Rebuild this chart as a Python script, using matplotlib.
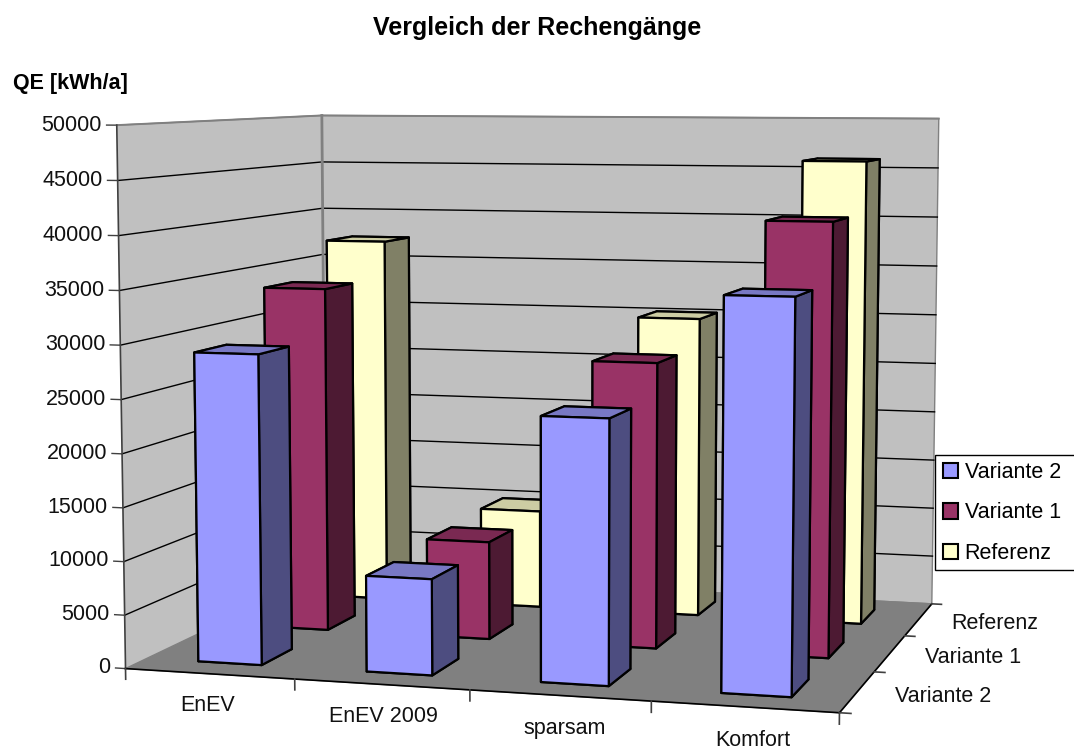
import matplotlib
matplotlib.use("Agg")
import numpy as np
import matplotlib.pyplot as plt
from matplotlib.patches import Patch, Rectangle

plt.rcParams['font.family'] = ['Liberation Sans', 'DejaVu Sans']

categories = ["EnEV", "EnEV 2009", "sparsam", "Komfort"]
series_names = ["Variante 2", "Variante 1", "Referenz"]
variante2 = [29000, 8900, 24200, 35400]
variante1 = [33700, 9500, 27400, 41000]
referenz = [37300, 9900, 30100, 46000]
z_ticks = [0, 5000, 10000, 15000, 20000, 25000, 30000, 35000, 40000, 45000, 50000]

# front, top, side colours per series
face_colors = ["#9999FF", "#993366", "#FFFFCC"]
top_colors = ["#7878C4", "#7A2952", "#CCCCA3"]
side_colors = ["#4D4D80", "#4D1A33", "#808066"]

W, H = 1074, 750
fig = plt.figure(figsize=(W / 100, H / 100), dpi=100, facecolor="white")
# 3d axes are always square, so let it overflow the figure vertically
ax = fig.add_axes([0 / W, (1 - W / H) / 2 - 20 / H, 1, W / H], projection="3d", computed_zorder=False)
ax.patch.set_visible(False)

ax.view_init(elev=6.2, azim=-74)
ax.set_proj_type("persp", focal_length=0.5)
ax.set_box_aspect((707, 560, 530), zoom=0.92)
ax.set_xlim(0, 4, view_margin=0)
ax.set_ylim(0, 3, view_margin=0)
ax.set_zlim(0, 50000, view_margin=0)
ax.set_xticks([])
ax.set_yticks([])
ax.set_zticks([])
ax.grid(False)
for axis, col in ((ax.xaxis, "#C0C0C0"), (ax.yaxis, "#C0C0C0"), (ax.zaxis, "#808080")):
    axis.set_pane_color(col)
    axis.pane.set_edgecolor("#808080")
    axis.line.set_color((0, 0, 0, 0))

# grid lines on the two walls
for z in z_ticks:
    if 0 < z < 50000:
        ax.plot([0, 0, 4], [0, 3, 3], [z, z, z], color="black", lw=1, zorder=1)
    ax.plot([-0.06, 0], [0, 0], [z, z], color="#404040", lw=1, zorder=1)
    ax.text(-0.09, 0, z, str(z), ha="right", va="center", fontsize=15.5, color="#111111")
ax.plot([0, 0, 4], [0, 3, 3], [50000, 50000, 50000], color="#808080", lw=1.4, zorder=1)
ax.plot([0, 0], [3, 3], [0, 50000], color="#808080", lw=2, zorder=1)

# axis edges and ticks
ax.plot([0, 0], [0, 0], [0, 50000], color="#404040", lw=1.2, zorder=2)
ax.plot([0, 4], [0, 0], [0, 0], color="black", lw=1.2, zorder=2)
ax.plot([4, 4], [0, 3], [0, 0], color="black", lw=1.2, zorder=2)
for i in range(5):
    ax.plot([i, i], [0, 0], [0, -1000], color="#404040", lw=1.2, zorder=2)
for s in range(4):
    ax.plot([4, 4.06], [s, s], [0, 0], color="#404040", lw=1.2, zorder=2)

for i, name in enumerate(categories):
    ax.text(i + 0.6, -0.25, -1900, name, ha="center", va="center", fontsize=15.5, color="#111111")
for s, name in enumerate(series_names):
    ax.text(4.2, s + 0.5, -200, name, ha="left", va="center", fontsize=15.5, color="#111111")

# bars, back row first so the front row covers it
values = [variante2, variante1, referenz]
for s in reversed(range(3)):
    for i in range(4):
        colors = [side_colors[s], top_colors[s], face_colors[s], side_colors[s], side_colors[s], side_colors[s]]
        bar = ax.bar3d(i + 0.31, s + 0.28, 0, 0.38, 0.44, values[s][i], color=colors,
                       edgecolor="black", linewidth=1.6, shade=False)
        bar.set_zorder(10 + (2 - s) * 10 + i)

fig.text(537 / W, 1 - 28 / H, "Vergleich der Rechengänge", ha="center", va="center",
         fontsize=18, fontweight="bold")
fig.text(13 / W, 1 - 83 / H, "QE [kWh/a]", ha="left", va="center", fontsize=15.5, fontweight="bold")

fig.add_artist(Rectangle((935 / W, 1 - 570 / H), 150 / W, 115 / H, transform=fig.transFigure,
                         facecolor="white", edgecolor="black", lw=1, zorder=50))
handles = [Patch(facecolor=c, edgecolor="black", lw=1.5) for c in face_colors]
leg = fig.legend(handles, series_names, loc="center left", bbox_to_anchor=(943 / W, 1 - 513 / H),
                 frameon=False, fontsize=15.5, handlelength=0.7, handleheight=0.7,
                 handletextpad=0.3, labelspacing=0.9, borderpad=0, borderaxespad=0)
leg.set_zorder(60)

fig.savefig("out.png", dpi=100)
